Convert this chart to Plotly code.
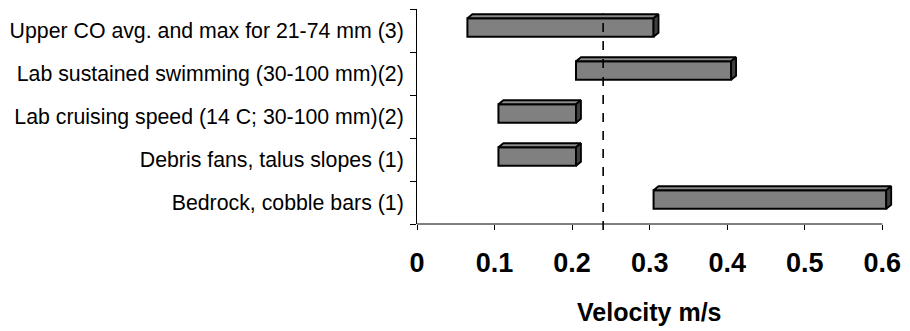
import plotly.graph_objects as go

# ---- data ----
categories = [
    "Upper CO avg. and max for 21-74 mm (3)",
    "Lab sustained swimming (30-100 mm)(2)",
    "Lab cruising speed (14 C; 30-100 mm)(2)",
    "Debris fans, talus slopes (1)",
    "Bedrock, cobble bars (1)",
]
low_vals = [0.06, 0.2, 0.1, 0.1, 0.3]
high_vals = [0.3, 0.4, 0.2, 0.2, 0.6]
threshold = 0.24
x_ticks = [0, 0.1, 0.2, 0.3, 0.4, 0.5, 0.6]
x_title = "Velocity m/s"

# ---- style / 3D geometry (in axis units) ----
FRONT = "#808080"
SIDE = "#404040"
TOP = "#8a8a8a"
shift_x = 0.005     # front face offset
shift_y = 0.07
depth_x = 0.0064
depth_y = 0.093
bar_h = 0.43

n = len(categories)
ypos = [n - 1 - i for i in range(n)]  # first category at top

fig = go.Figure()

# front faces
fig.add_trace(go.Bar(
    orientation="h",
    y=[p + shift_y for p in ypos],
    base=[lo + shift_x for lo in low_vals],
    x=[hi - lo for lo, hi in zip(low_vals, high_vals)],
    width=bar_h,
    marker=dict(color=FRONT, line=dict(color="black", width=2)),
    hoverinfo="skip",
))

# top and side faces
tx, ty, sx, sy = [], [], [], []
for p, lo, hi in zip(ypos, low_vals, high_vals):
    x0 = lo + shift_x
    x1 = hi + shift_x
    yt = p + shift_y + bar_h / 2
    yb = p + shift_y - bar_h / 2
    tx += [x0, x1, x1 + depth_x, x0 + depth_x, x0, None]
    ty += [yt, yt, yt + depth_y, yt + depth_y, yt, None]
    sx += [x1, x1 + depth_x, x1 + depth_x, x1, x1, None]
    sy += [yb, yb + depth_y, yt + depth_y, yt, yb, None]

fig.add_trace(go.Scatter(x=tx, y=ty, fill="toself", fillcolor=TOP, mode="lines",
                         line=dict(color="black", width=1.8), hoverinfo="skip"))
fig.add_trace(go.Scatter(x=sx, y=sy, fill="toself", fillcolor=SIDE, mode="lines",
                         line=dict(color="black", width=1.8), hoverinfo="skip"))

# dashed reference line
fig.add_shape(type="line", xref="x", yref="paper", x0=threshold, x1=threshold,
              y0=-0.028, y1=0.98, line=dict(color="black", width=1.6, dash="dash"))
# x axis line (from first to last tick)
fig.add_shape(type="line", xref="x", yref="paper", x0=x_ticks[0], x1=x_ticks[-1],
              y0=0, y1=0, line=dict(color="black", width=1))

fig.add_annotation(text=x_title, xref="x", yref="paper",
                   x=(x_ticks[0] + x_ticks[-1]) / 2, y=-0.485, showarrow=False,
                   font=dict(family="Liberation Sans, Arial", size=25, color="black", weight="bold"))

fig.update_layout(
    width=910, height=331,
    margin=dict(l=417, r=12, t=9, b=107),
    paper_bgcolor="white", plot_bgcolor="white",
    showlegend=False,
    font=dict(family="Liberation Sans, Arial", color="black"),
    xaxis=dict(
        range=[0, 0.615], tickvals=x_ticks, ticktext=[f"{v:g}" for v in x_ticks],
        ticks="outside", ticklen=5, tickcolor="black", tickwidth=1,
        showline=False, showgrid=False, zeroline=False,
        tickfont=dict(size=27, weight="bold", family="Liberation Sans, Arial"),
        ticklabelstandoff=10,
    ),
    yaxis=dict(
        range=[-0.5, n - 0.5], tickvals=ypos, ticktext=categories,
        ticks="", showline=True, linecolor="black", linewidth=1,
        showgrid=False, zeroline=False,
        tickfont=dict(size=21.3, family="Liberation Sans, Arial"),
        ticklabelstandoff=8,
        minor=dict(tickmode="array", tickvals=[v - 0.5 for v in range(n + 1)],
                   ticks="outside", ticklen=6, tickcolor="black", tickwidth=1),
    ),
)

fig.write_html("out.html")
